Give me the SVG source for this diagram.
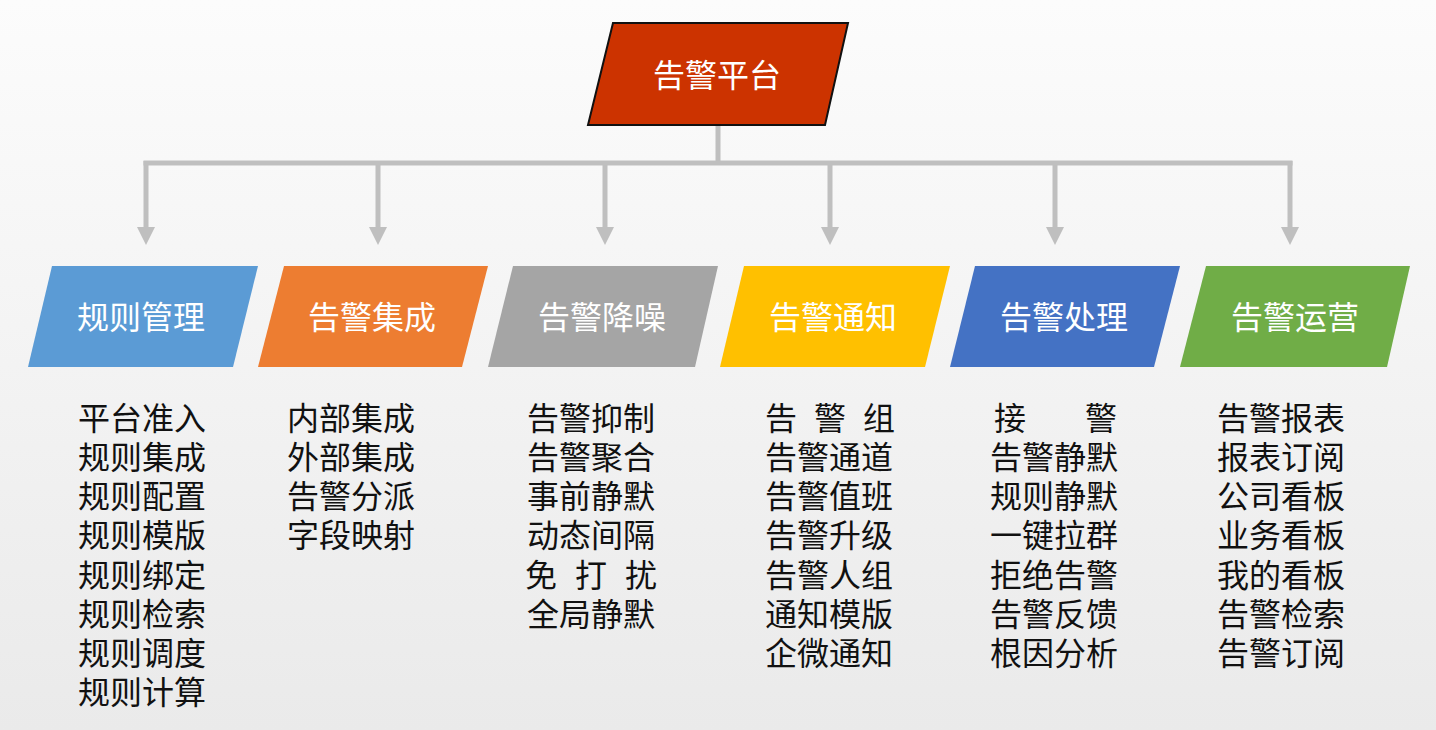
<svg xmlns="http://www.w3.org/2000/svg" width="1436" height="730" viewBox="0 0 1436 730">
  <defs>
    <linearGradient id="bg" x1="0" y1="0" x2="0" y2="1">
      <stop offset="0" stop-color="#fcfcfc"/>
      <stop offset="1" stop-color="#eaeaea"/>
    </linearGradient>
    <marker id="arrow" markerUnits="userSpaceOnUse" viewBox="0 -10 20 20" refX="0" refY="0" markerWidth="20" markerHeight="20" orient="auto">
      <path d="M0,-9 L18,0 L0,9 Z" fill="#bfbfbf"/>
    </marker>
    <style>
      .lbl { font-family: "Noto Sans CJK SC", "Noto Sans", sans-serif; font-size: 32px; fill: #ffffff; text-anchor: middle; }
      .item { font-family: "Noto Sans CJK SC", "Noto Sans", sans-serif; font-size: 32px; fill: #111111; }
      .conn { stroke: #bfbfbf; stroke-width: 5; fill: none; }
    </style>
  </defs>

  <rect x="0" y="0" width="1436" height="730" fill="url(#bg)"/>

  <g id="connectors">
    <path class="conn" d="M718,125 V163"/>
    <path class="conn" d="M143.5,163 H1292.5"/>
    <path class="conn" d="M146,161 V227" marker-end="url(#arrow)"/>
    <path class="conn" d="M378,163 V227" marker-end="url(#arrow)"/>
    <path class="conn" d="M605,163 V227" marker-end="url(#arrow)"/>
    <path class="conn" d="M830,163 V227" marker-end="url(#arrow)"/>
    <path class="conn" d="M1055,163 V227" marker-end="url(#arrow)"/>
    <path class="conn" d="M1290,161 V227" marker-end="url(#arrow)"/>
  </g>

  <g id="root">
    <polygon points="613,23 848,23 825,125 588,125" fill="#cc3300" stroke="#111111" stroke-width="2"/>
    <text class="lbl" x="717" y="87">告警平台</text>
  </g>

  <g id="rules">
    <polygon points="52,266 258,266 233,367 28,367" fill="#5b9bd5"/>
    <text class="lbl" x="141" y="329">规则管理</text>
    <text class="item">
      <tspan x="78" y="430">平台准入</tspan>
      <tspan x="78" y="469">规则集成</tspan>
      <tspan x="78" y="508">规则配置</tspan>
      <tspan x="78" y="547">规则模版</tspan>
      <tspan x="78" y="587">规则绑定</tspan>
      <tspan x="78" y="626">规则检索</tspan>
      <tspan x="78" y="665">规则调度</tspan>
      <tspan x="78" y="704">规则计算</tspan>
    </text>
  </g>

  <g id="integration">
    <polygon points="284,266 488,266 462,367 258,367" fill="#ed7d31"/>
    <text class="lbl" x="372" y="329">告警集成</text>
    <text class="item">
      <tspan x="287" y="430">内部集成</tspan>
      <tspan x="287" y="469">外部集成</tspan>
      <tspan x="287" y="508">告警分派</tspan>
      <tspan x="287" y="547">字段映射</tspan>
    </text>
  </g>

  <g id="noise">
    <polygon points="513,266 718,266 695,367 488,367" fill="#a5a5a5"/>
    <text class="lbl" x="602" y="329">告警降噪</text>
    <text class="item">
      <tspan x="527" y="430">告警抑制</tspan>
      <tspan x="527" y="469">告警聚合</tspan>
      <tspan x="527" y="508">事前静默</tspan>
      <tspan x="527" y="547">动态间隔</tspan>
      <tspan x="525 575 625" y="587">免打扰</tspan>
      <tspan x="527" y="626">全局静默</tspan>
    </text>
  </g>

  <g id="notify">
    <polygon points="744,266 950,266 925,367 720,367" fill="#ffc000"/>
    <text class="lbl" x="833" y="329">告警通知</text>
    <text class="item">
      <tspan x="765 814 863" y="430">告警组</tspan>
      <tspan x="765" y="469">告警通道</tspan>
      <tspan x="765" y="508">告警值班</tspan>
      <tspan x="765" y="547">告警升级</tspan>
      <tspan x="765" y="587">告警人组</tspan>
      <tspan x="765" y="626">通知模版</tspan>
      <tspan x="765" y="665">企微通知</tspan>
    </text>
  </g>

  <g id="handle">
    <polygon points="975,266 1180,266 1154,367 950,367" fill="#4472c4"/>
    <text class="lbl" x="1064" y="329">告警处理</text>
    <text class="item">
      <tspan x="994 1085" y="430">接警</tspan>
      <tspan x="990" y="469">告警静默</tspan>
      <tspan x="990" y="508">规则静默</tspan>
      <tspan x="990" y="547">一键拉群</tspan>
      <tspan x="990" y="587">拒绝告警</tspan>
      <tspan x="990" y="626">告警反馈</tspan>
      <tspan x="990" y="665">根因分析</tspan>
    </text>
  </g>

  <g id="operation">
    <polygon points="1206,266 1410,266 1387,367 1180,367" fill="#70ad47"/>
    <text class="lbl" x="1295" y="329">告警运营</text>
    <text class="item">
      <tspan x="1217" y="430">告警报表</tspan>
      <tspan x="1217" y="469">报表订阅</tspan>
      <tspan x="1217" y="508">公司看板</tspan>
      <tspan x="1217" y="547">业务看板</tspan>
      <tspan x="1217" y="587">我的看板</tspan>
      <tspan x="1217" y="626">告警检索</tspan>
      <tspan x="1217" y="665">告警订阅</tspan>
    </text>
  </g>
</svg>
